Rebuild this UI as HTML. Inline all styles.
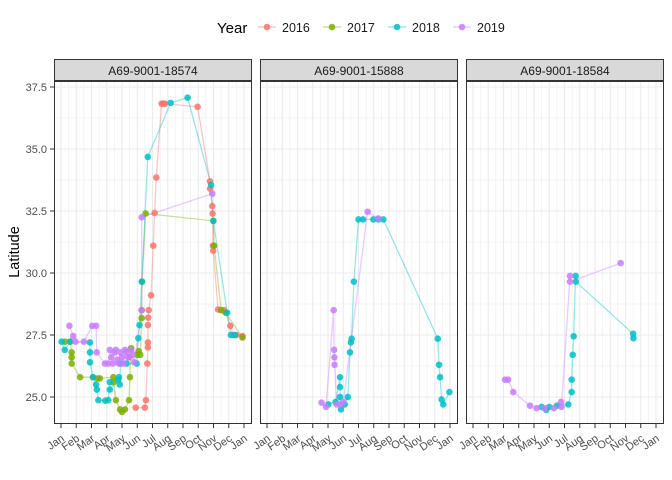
<!DOCTYPE html>
<html><head><meta charset="utf-8"><style>
body{margin:0;background:#fff;}
svg{display:block;font-family:"Liberation Sans",Arial,sans-serif;}
</style></head><body>
<svg id="chart" width="672" height="480" viewBox="0 0 672 480"></svg>
<script>
const years = ["2016","2017","2018","2019"];
const colors = ["#F8766D","#7CAE00","#00BFC4","#C77CFF"];
const facetTitles = ["A69-9001-18574","A69-9001-15888","A69-9001-18584"];
const monthLabels = ["Jan","Feb","Mar","Apr","May","Jun","Jul","Aug","Sep","Oct","Nov","Dec","Jan"];
const yTicks = [25.0, 27.5, 30.0, 32.5, 35.0, 37.5];

// Panel 1
const p1_2016_m = [4.9,5.5,5.57,5.66,5.7,5.7,5.7,5.72,5.75,5.9,6.05,6.14,6.25,6.6,6.7,6.82,8.96,9.77,9.78,9.92,9.94,9.96,9.98,10.3,10.5,10.7,11.1,11.3,11.5,11.9];
const p1_2016_lat = [24.57,24.57,24.87,26.35,27.0,27.2,27.9,28.2,28.5,29.1,31.1,32.42,33.85,36.83,36.83,36.83,36.7,33.7,33.4,32.7,32.4,31.1,30.9,28.53,28.5,28.5,27.87,27.5,27.5,27.46];
const p1_2017_m = [0.26,0.6,0.7,0.7,0.7,1.25,2.1,2.4,2.55,3.43,3.45,3.6,3.87,4.0,4.2,4.46,4.52,4.6,5.0,5.1,5.2,5.29,5.29,5.32,5.55,9.99,10.04,10.5,10.8,11.9];
const p1_2017_lat = [27.23,27.23,26.8,26.6,26.35,25.8,25.8,25.75,25.75,25.8,25.6,24.87,24.5,24.4,24.5,24.87,25.8,26.97,26.7,26.85,26.7,28.18,28.5,29.65,32.4,32.1,31.1,28.5,28.4,27.4];
const p1_2018_m = [0.04,0.25,0.6,1.9,1.9,1.9,2.1,2.3,2.35,2.45,2.9,3.1,3.2,3.2,3.76,3.8,3.85,3.9,4.3,4.96,5.07,5.15,5.3,5.69,7.19,8.3,9.84,9.99,10.9,11.14,11.4];
const p1_2018_lat = [27.23,26.9,27.23,27.2,26.8,26.4,25.8,25.5,25.3,24.87,24.85,24.87,25.6,25.3,25.7,25.8,25.5,26.35,26.35,26.35,27.37,27.9,29.65,34.68,36.86,37.07,33.55,32.1,28.4,27.5,27.5];
const p1_2019_m = [0.55,0.8,0.95,1.5,2.05,2.3,2.34,2.88,3.1,3.2,3.3,3.4,3.5,3.6,3.7,3.8,3.9,4.0,4.1,4.2,4.3,4.4,4.5,4.6,4.7,4.8,5.29,5.29,9.92];
const p1_2019_lat = [27.87,27.46,27.23,27.23,27.87,27.87,26.8,26.35,26.35,26.9,26.6,26.35,26.8,26.9,26.5,26.35,26.8,26.6,26.35,26.9,26.8,26.6,26.6,26.9,26.7,26.4,28.5,32.25,33.2];
// Panel 2
const p2_2018_m = [4.02,4.5,4.79,4.79,4.79,4.85,5.1,5.3,5.44,5.5,5.55,5.7,6.0,6.3,6.97,7.3,7.63,11.2,11.28,11.35,11.45,11.56,11.96];
const p2_2018_lat = [24.7,24.8,25.8,25.4,25.0,24.5,24.7,25.0,26.8,27.2,27.35,29.65,32.16,32.16,32.16,32.16,32.16,27.35,26.3,25.8,24.9,24.7,25.2];
const p2_2019_m = [3.58,3.87,4.37,4.4,4.42,4.43,4.57,4.8,5.0,6.6,7.3];
const p2_2019_lat = [24.77,24.6,28.5,26.9,26.6,26.3,24.7,24.7,24.8,32.47,32.2];
// Panel 3
const p3_2018_m = [4.5,4.8,5.0,5.5,6.25,6.47,6.47,6.54,6.6,6.73,6.75,10.5,10.52];
const p3_2018_lat = [24.6,24.48,24.6,24.65,24.7,25.2,25.7,26.7,27.45,29.88,29.65,27.55,27.37];
const p3_2019_m = [2.1,2.3,2.64,3.74,4.17,4.7,5.3,5.77,5.8,6.36,6.36,9.68];
const p3_2019_lat = [25.7,25.7,25.2,24.65,24.55,24.55,24.55,24.8,24.6,29.88,29.65,30.4];

const panelSeries = [
  [[0,p1_2016_m,p1_2016_lat],[1,p1_2017_m,p1_2017_lat],[2,p1_2018_m,p1_2018_lat],[3,p1_2019_m,p1_2019_lat]],
  [[2,p2_2018_m,p2_2018_lat],[3,p2_2019_m,p2_2019_lat]],
  [[2,p3_2018_m,p3_2018_lat],[3,p3_2019_m,p3_2019_lat]]
];

const NS = "http://www.w3.org/2000/svg";
const svg = document.getElementById("chart");
function mk(tag, attrs, parent, text){
  const e = document.createElementNS(NS, tag);
  for (const k in attrs) e.setAttribute(k, attrs[k]);
  if (text !== undefined) e.textContent = text;
  (parent || svg).appendChild(e);
  return e;
}
const panelLeft = [54, 260, 466], panelW = 198, plotTop = 81, plotBot = 424;
function xScale(p, m){ return panelLeft[p] + 7 + m * 15.25; }
function yScale(lat){ return 87 + (37.5 - lat) * 24.8; }

// legend
const leg = mk("g", {});


const lt = mk("text", {x:217, y:33, "font-size":15, fill:"#000"}, leg, "Year");


years.forEach((yr, i) => {
  const gx = 258 + i * 65;
  const g = mk("g", {}, leg);
  
  
  mk("line", {x1:gx, x2:gx+18, y1:27, y2:27, stroke:colors[i], "stroke-opacity":0.45, "stroke-width":1.2}, g);
  mk("circle", {cx:gx+9, cy:27, r:3.3, fill:colors[i], "fill-opacity":0.85}, g);
  mk("text", {x:gx+24, y:32, "font-size":12.5, fill:"#1a1a1a"}, g, yr);
});

// y axis
const yt = mk("text", {x:0, y:0, "font-size":14.5, fill:"#000", "text-anchor":"middle", transform:"translate(19,252) rotate(-90)"}, svg, "Latitude");


yTicks.forEach(v => {
  const t = mk("text", {x:47, y:yScale(v)+4, "font-size":11, fill:"#4d4d4d", "text-anchor":"end"}, svg, v.toFixed(1));
  
  
  mk("line", {x1:50, x2:54, y1:yScale(v), y2:yScale(v), stroke:"#333", "stroke-width":1});
});

for (let p = 0; p < 3; p++) {
  const L = panelLeft[p];
  const g = mk("g", {});
  
  
  const st = mk("rect", {x:L+0.5, y:59.5, width:panelW-1, height:21, fill:"#D9D9D9", stroke:"#333", "stroke-width":1}, g);
  
  
  const stt = mk("text", {x:L+panelW/2, y:75, "font-size":12, fill:"#1a1a1a", "text-anchor":"middle"}, g, facetTitles[p]);
  
  
  mk("rect", {x:L, y:plotTop, width:panelW, height:plotBot-plotTop, fill:"#fff"}, g);
  for (let v = 23.75; v <= 37.75; v += 1.25) {
    const isMaj = Math.abs((v/2.5) - Math.round(v/2.5)) < 1e-6;
    mk("line", {x1:L, x2:L+panelW, y1:yScale(v), y2:yScale(v), stroke:"#EBEBEB", "stroke-width": isMaj?1.1:0.55}, g);
  }
  for (let m = -0.5; m <= 12.5; m += 0.5) {
    const x = xScale(p, m);
    if (x < L || x > L+panelW) continue;
    const isMaj = Math.abs(m - Math.round(m)) < 1e-6;
    mk("line", {x1:x, x2:x, y1:plotTop, y2:plotBot, stroke:"#EBEBEB", "stroke-width": isMaj?1.1:0.55}, g);
  }
  panelSeries[p].forEach(([ci, ms, lats]) => {
    const pts = ms.map((m, k) => xScale(p, m).toFixed(1) + "," + yScale(lats[k]).toFixed(1)).join(" ");
    const pl = mk("polyline", {points:pts, fill:"none", stroke:colors[ci], "stroke-opacity":0.4, "stroke-width":1.3}, g);
    
    
  });
  panelSeries[p].forEach(([ci, ms, lats]) => {
    ms.forEach((m, k) => {
      const c = mk("circle", {cx:xScale(p, m), cy:yScale(lats[k]), r:3.3, fill:colors[ci], "fill-opacity":0.85}, g);
      
      
    });
  });
  const br = mk("rect", {x:L+0.5, y:plotTop+0.5, width:panelW-1, height:plotBot-plotTop-1, fill:"none", stroke:"#333", "stroke-width":1}, g);
  
  
  monthLabels.forEach((lab, m) => {
    const x = xScale(p, m);
    mk("line", {x1:x, x2:x, y1:plotBot, y2:plotBot+4, stroke:"#333", "stroke-width":1}, g);
    const t = mk("text", {x:0, y:0, "font-size":11, fill:"#4d4d4d", "text-anchor":"end", transform:`translate(${x+4},${plotBot+16}) rotate(-35)`}, g, lab);
    
    
  });
}
</script>
</body></html>
